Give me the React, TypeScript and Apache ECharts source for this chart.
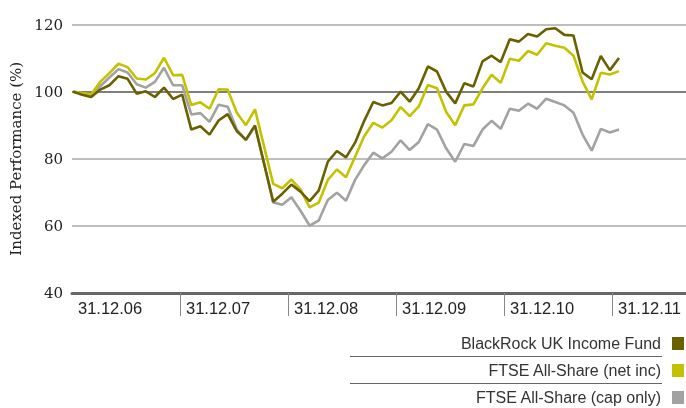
import React, { useEffect, useRef } from "react";
import * as echarts from "echarts";

// Year-end tick labels (last one is the band end, off-screen)
const yearLabels = ["31.12.06", "31.12.07", "31.12.08", "31.12.09", "31.12.10", "31.12.11", ""];

const seriesNames = [
  "BlackRock UK Income Fund",
  "FTSE All-Share (net inc)",
  "FTSE All-Share (cap only)",
];

// Monthly indexed values, 31.12.06 .. 31.12.11
const blackrock = [
  100, 99.1, 98.4, 100.6, 101.9, 104.6, 103.8, 99.4, 100.1, 98.4,
  101.2, 97.8, 99.1, 88.7, 89.7, 87.2, 91.4, 93.3, 88.2, 85.7,
  89.9, 78.5, 67.2, 69.6, 72.3, 70.2, 67.4, 70.5, 79.1, 82.3,
  80.4, 84.8, 91.3, 96.9, 95.9, 96.6, 100, 97, 101, 107.5,
  106, 100, 96.5, 102.5, 101.5, 109, 110.7, 108.8, 115.6, 114.9,
  117.2, 116.4, 118.6, 118.9, 116.9, 116.7, 105.7, 103.7, 110.6, 106.4,
  110,
];

const ftseNet = [
  100, 99.6, 99.2, 102.9, 105.5, 108.3, 107.3, 103.9, 103.6, 105.5,
  110.1, 104.9, 105, 96, 96.8, 94.9, 100.7, 100.6, 93.7, 90,
  94.7, 83.6, 72.5, 71.2, 73.8, 70.9, 65.5, 66.9, 73.7, 76.8,
  74.5, 80.6, 86.7, 90.7, 89.3, 91.5, 95.4, 92.7, 95.6, 102,
  101, 94, 90, 95.9, 96.2, 101, 105, 102.6, 109.8, 109.2,
  112.1, 111, 114.4, 113.7, 113.1, 110.7, 103, 97.7, 105.6, 105.1,
  106.1,
];

const ftseCap = [
  100, 99.4, 99, 101.6, 104.2, 106.7, 105.7, 102.2, 101.2, 102.9,
  107.1, 101.9, 101.9, 93.2, 93.6, 91, 96.1, 95.5, 88.7, 85.5,
  89.7, 78.6, 67, 66.3, 68.5, 64.5, 60.1, 61.6, 67.7, 69.9,
  67.5, 73.7, 78.1, 81.8, 80.1, 82.1, 85.5, 82.6, 85, 90.3,
  88.7, 83.1, 79.1, 84.4, 83.8, 88.7, 91.3, 88.9, 94.9, 94.3,
  96.4, 94.9, 97.9, 96.9, 95.9, 93.7, 87.2, 82.4, 88.9, 87.8,
  88.7,
];

const seriesColors = ["#6b6000", "#c4c100", "#a2a2a2"];

export default function App() {
  const ref = useRef<HTMLDivElement>(null);

  useEffect(() => {
    if (!ref.current) return;
    const chart = echarts.init(ref.current, null, { renderer: "svg" });
    const toPts = (arr: number[]) => arr.map((v, i) => [i, v]);

    const mkLine = (name: string, data: number[], color: string, z: number) => ({
      name,
      type: "line",
      xAxisIndex: 1,
      yAxisIndex: 0,
      data: toPts(data),
      showSymbol: false,
      symbol: "none",
      lineStyle: { width: 2.6, color },
      itemStyle: { color },
      z,
    });

    chart.setOption({
      animation: false,
      grid: {
        left: 72,
        width: 648,
        top: 24.5,
        height: 268.5,
        containLabel: false,
        outerBoundsMode: "none",
      },
      xAxis: [
        {
          type: "category",
          data: yearLabels,
          boundaryGap: false,
          axisLine: { show: true, lineStyle: { color: "#666", width: 3 } },
          axisTick: {
            show: true,
            length: 23,
            interval: (i: number) => i > 0,
            lineStyle: { color: "#888", width: 1 },
          },
          axisLabel: {
            interval: 0,
            align: "left",
            padding: [0, 0, 0, 6],
            margin: 6,
            fontFamily: "Liberation Sans",
            fontSize: 16.5,
            color: "#222",
          },
          splitLine: { show: false },
        },
        {
          type: "value",
          min: -0.11,
          max: 71.1,
          show: false,
        },
      ],
      yAxis: {
        type: "value",
        min: 40,
        max: 120,
        interval: 20,
        name: "Indexed Performance (%)",
        nameLocation: "middle",
        nameGap: 47,
        nameTextStyle: { fontFamily: "DejaVu Serif", fontSize: 15, color: "#222" },
        axisLine: { show: false },
        axisTick: { show: false },
        axisLabel: { fontFamily: "DejaVu Serif", fontSize: 15, color: "#222", margin: 9 },
        splitLine: {
          lineStyle: {
            color: ["#666", "#a8a8a8", "#a8a8a8", "#555", "#a8a8a8"],
            width: 1.5,
          },
        },
      },
      legend: {
        orient: "vertical",
        right: 2,
        top: 335.5,
        height: 120,
        padding: 0,
        align: "right",
        icon: "rect",
        itemWidth: 12,
        itemHeight: 13,
        itemGap: 11,
        selectedMode: false,
        data: seriesNames,
        textStyle: {
          fontFamily: "Liberation Sans",
          fontSize: 16,
          color: "#333",
          lineHeight: 13,
          padding: [0, 6, 0, 0],
        },
      },
      graphic: [
        {
          type: "line",
          shape: { x1: 350, y1: 356.5, x2: 662, y2: 356.5 },
          style: { stroke: "#666", lineWidth: 1.2 },
        },
        {
          type: "line",
          shape: { x1: 350, y1: 383.5, x2: 662, y2: 383.5 },
          style: { stroke: "#666", lineWidth: 1.2 },
        },
      ],
      series: [
        mkLine(seriesNames[2], ftseCap, seriesColors[2], 1),
        mkLine(seriesNames[1], ftseNet, seriesColors[1], 2),
        mkLine(seriesNames[0], blackrock, seriesColors[0], 3),
      ],
    });

    return () => chart.dispose();
  }, []);

  return (
    <div
      ref={ref}
      style={{ position: "fixed", left: 0, top: 0, width: 686, height: 408 }}
    />
  );
}
